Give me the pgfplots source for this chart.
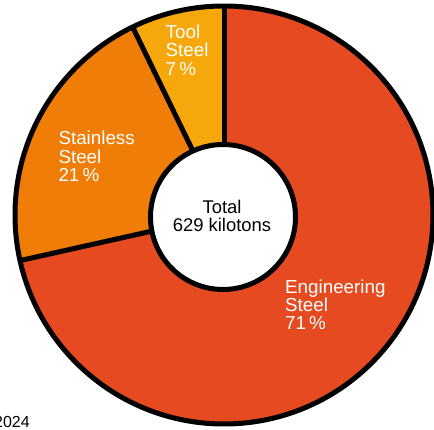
\documentclass[border=0pt]{standalone}
\usepackage{pgfplots}
\usepackage{pgfplotstable}
\pgfplotsset{compat=1.18}
\usepackage{fontspec}
\setmainfont{Liberation Sans}
\definecolor{engc}{RGB}{230,74,32}
\definecolor{stac}{RGB}{239,125,8}
\definecolor{tooc}{RGB}{246,167,12}

\pgfplotstableread{
label value
Engineering 71.5
Stainless 21.3
Tool 7.2
}\steeldata

\begin{document}
\begin{tikzpicture}
\pgfplotstablegetelem{0}{value}\of\steeldata\let\vEng\pgfplotsretval
\pgfplotstablegetelem{1}{value}\of\steeldata\let\vSta\pgfplotsretval
\pgfplotstablegetelem{2}{value}\of\steeldata\let\vToo\pgfplotsretval
\pgfmathsetmacro\aToo{90+3.6*\vToo}
\pgfmathsetmacro\aSta{\aToo+3.6*\vSta}
\pgfmathsetmacro\aEng{\aSta+3.6*\vEng}
\useasboundingbox (0,0) rectangle (434pt,429pt);
\begin{axis}[
  at={(0,0)}, anchor=south west,
  scale only axis, width=434pt, height=429pt,
  xmin=0, xmax=434, ymin=0, ymax=429,
  hide axis, clip=true,
]
% wedges
\fill[tooc] (axis cs:224,214) -- ([shift={(90:209pt)}]axis cs:224,214) arc[start angle=90, end angle=\aToo, radius=209pt] -- cycle;
\fill[stac] (axis cs:224,214) -- ([shift={(\aToo:209pt)}]axis cs:224,214) arc[start angle=\aToo, end angle=\aSta, radius=209pt] -- cycle;
\fill[engc] (axis cs:224,214) -- ([shift={(\aSta:209pt)}]axis cs:224,214) arc[start angle=\aSta, end angle=\aEng, radius=209pt] -- cycle;
% dividers and outline
\draw[line width=5pt] (axis cs:224,214) -- ([shift={(90:209pt)}]axis cs:224,214);
\draw[line width=5pt] (axis cs:224,214) -- ([shift={(\aToo:209pt)}]axis cs:224,214);
\draw[line width=5pt] (axis cs:224,214) -- ([shift={(\aSta:209pt)}]axis cs:224,214);
\draw[line width=5pt] (axis cs:224,214) circle[radius=209pt];
% inner circle
\draw[line width=5pt, fill=white] (axis cs:223,212) circle[radius=72.5pt];
% labels
\begin{scope}[every node/.style={inner sep=0pt, font=\fontsize{18.8}{19}\selectfont}]
\node[white, anchor=base west] at (axis cs:165.5,390.7) {Tool};
\node[white, anchor=base west] at (axis cs:165.5,372) {Steel};
\node[white, anchor=base west] at (axis cs:165.5,353.3) {7\,\%};
\node[white, anchor=base west] at (axis cs:58.3,284) {Stainless};
\node[white, anchor=base west] at (axis cs:58.3,265.7) {Steel};
\node[white, anchor=base west] at (axis cs:58.3,247.3) {21\,\%};
\node[white, anchor=base west] at (axis cs:285,135.7) {Engineering};
\node[white, anchor=base west] at (axis cs:285,117.4) {Steel};
\node[white, anchor=base west] at (axis cs:285,99.1) {71\,\%};
\end{scope}
\begin{scope}[every node/.style={inner sep=0pt, font=\fontsize{18.4}{18}\selectfont}]
\node[black, anchor=base] at (axis cs:222,215) {Total};
\node[black, anchor=base] at (axis cs:222,197.5) {629 kilotons};
\end{scope}
\node[black, anchor=base east, inner sep=0pt, font=\fontsize{16}{16}\selectfont] at (axis cs:30,2) {2024};
\end{axis}
\end{tikzpicture}
\end{document}
